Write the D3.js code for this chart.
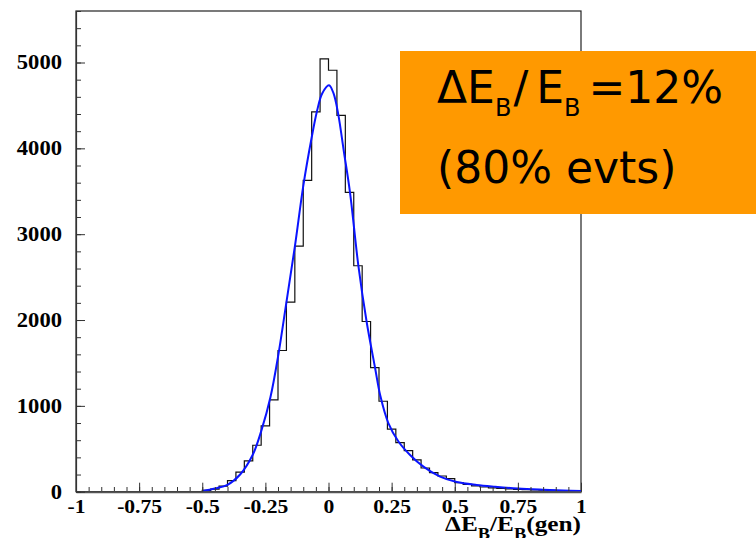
<!DOCTYPE html>
<html lang="en">
<head>
<meta charset="UTF-8">
<title>Beam energy resolution</title>
<script src="https://d3js.org/d3.v7.min.js"></script>
<style>
  body { margin: 0; background: #fff; }
  svg { display: block; }
  .tick text { font-family: "Liberation Serif", "Times New Roman", serif; font-weight: bold; fill: #000; }
  .box-text { font-family: "DejaVu Sans", sans-serif; fill: #000; }
</style>
</head>
<body>
<div id="chart"></div>
<script>
// histogram: 60 bins of width 1/30 between -1 and 1 (counts per bin)
const binLow = -1, binHigh = 1, nBins = 60;
const binCounts = [
  0, 0, 0, 0, 0, 0, 0, 0, 0, 0,
  0, 0, 0, 0, 0, 15, 30, 66, 128, 228,
  360, 541, 766, 1070, 1645, 2209, 2862, 3627, 4425, 5043,
  4910, 4385, 3487, 2632, 1983, 1446, 1054, 728, 572, 478,
  370, 276, 222, 183, 152, 105, 85, 68, 55, 45,
  38, 32, 27, 24, 20, 17, 15, 12, 10, 8
];

// fitted curve
const fitX = [-0.5, -0.45, -0.4, -0.35, -0.3, -0.265, -0.23, -0.2, -0.167, -0.133,
  -0.1, -0.067, -0.045, -0.025, 0.002, 0.02, 0.039, 0.06, 0.085, 0.118,
  0.151, 0.184, 0.205, 0.237, 0.277, 0.323, 0.376, 0.442, 0.508, 0.587,
  0.66, 0.75, 0.85, 0.93, 1.0];
const fitY = [8, 38, 80, 200, 430, 720, 1100, 1570, 2200, 2860,
  3560, 4120, 4440, 4640, 4735, 4640, 4390, 3980, 3490, 2640,
  1980, 1450, 1120, 800, 585, 428, 292, 175, 112, 78,
  58, 38, 24, 15, 8];

const xTicks = [-1, -0.75, -0.5, -0.25, 0, 0.25, 0.5, 0.75, 1];
const xTickLabels = ["-1", "-0.75", "-0.5", "-0.25", "0", "0.25", "0.5", "0.75", "1"];
const yTicks = [0, 1000, 2000, 3000, 4000, 5000];
const yMax = 5600;

const width = 756, height = 538;
const frame = { left: 76, right: 581, top: 11, bottom: 491.7 };

const svg = d3.select("#chart").append("svg")
  .attr("width", width)
  .attr("height", height);

const x = d3.scaleLinear().domain([binLow, binHigh]).range([frame.left, frame.right]);
const y = d3.scaleLinear().domain([0, yMax]).range([frame.bottom, frame.top]);

// frame
svg.append("rect")
  .attr("x", frame.left).attr("y", frame.top)
  .attr("width", frame.right - frame.left)
  .attr("height", frame.bottom - frame.top)
  .attr("fill", "none")
  .attr("stroke", "#222")
  .attr("stroke-width", 1.2);

// histogram outline
const binW = (binHigh - binLow) / nBins;
const steps = binCounts.map((c, i) => ({ x: binLow + i * binW, v: c }));
steps.push({ x: binHigh, v: binCounts[nBins - 1] });
const stepLine = d3.line()
  .x(d => x(d.x))
  .y(d => y(d.v))
  .curve(d3.curveStepAfter);
svg.append("path")
  .attr("d", stepLine(steps))
  .attr("fill", "none")
  .attr("stroke", "#111")
  .attr("stroke-width", 1.2);

// fit
const fitLine = d3.line()
  .x((d, i) => x(fitX[i]))
  .y(d => y(d))
  .curve(d3.curveCatmullRom);
svg.append("path")
  .attr("d", fitLine(fitY))
  .attr("fill", "none")
  .attr("stroke", "#0a14ff")
  .attr("stroke-width", 2);

// x axis, ticks point inward
const xMinor = d3.range(-1, 1.0001, 0.05).map(v => +v.toFixed(2));
svg.append("g")
  .attr("transform", `translate(0,${frame.bottom})`)
  .call(d3.axisBottom(x).tickValues(xMinor).tickSize(-4.7).tickSizeOuter(0).tickFormat(""))
  .call(g => g.select(".domain").remove())
  .call(g => g.selectAll(".tick line").attr("stroke", "#333"));

const xAxis = svg.append("g")
  .attr("transform", `translate(0,${frame.bottom})`)
  .call(d3.axisBottom(x).tickValues(xTicks).tickSize(-9).tickSizeOuter(0).tickPadding(9)
    .tickFormat((d, i) => xTickLabels[i]));
xAxis.select(".domain").attr("stroke", "#555").attr("stroke-width", 2);
xAxis.selectAll(".tick line").attr("stroke", "#333");
xAxis.selectAll(".tick text")
  .style("font-size", "18px")
  .attr("transform", "scale(1.2,1)");

// y axis
const yMinor = d3.range(0, yMax + 1, 200);
svg.append("g")
  .attr("transform", `translate(${frame.left},0)`)
  .call(d3.axisLeft(y).tickValues(yMinor).tickSize(-5).tickSizeOuter(0).tickFormat(""))
  .call(g => g.select(".domain").remove())
  .call(g => g.selectAll(".tick line").attr("stroke", "#333"));

const yAxis = svg.append("g")
  .attr("transform", `translate(${frame.left},0)`)
  .call(d3.axisLeft(y).tickValues(yTicks).tickSize(-9).tickSizeOuter(0).tickFormat(d3.format("d")));
yAxis.select(".domain").attr("stroke", "#333").attr("stroke-width", 1.2);
yAxis.selectAll(".tick line").attr("stroke", "#333");
yAxis.selectAll(".tick text")
  .style("font-size", "20px")
  .attr("x", 0)
  .attr("transform", "translate(-14,0) scale(1.13,1)");

// x axis title (runs off the bottom edge like the original)
const xTitle = svg.append("text")
  .attr("x", 0)
  .attr("y", 0)
  .attr("transform", `translate(${frame.right},531) scale(1.15,1)`)
  .attr("text-anchor", "end")
  .style("font-family", "'Liberation Serif', 'Times New Roman', serif")
  .style("font-weight", "bold")
  .style("font-size", "22px");
xTitle.append("tspan").text("\u0394E");
xTitle.append("tspan").attr("dy", 8).style("font-size", "16px").text("B");
xTitle.append("tspan").attr("dy", -8).text("/E");
xTitle.append("tspan").attr("dy", 8).style("font-size", "16px").text("B");
xTitle.append("tspan").attr("dy", -8).text("(gen)");

// orange label box
svg.append("rect")
  .attr("x", 400).attr("y", 51)
  .attr("width", 356).attr("height", 163)
  .attr("fill", "#ff9900");

const line1 = svg.append("text")
  .attr("class", "box-text")
  .attr("x", 437).attr("y", 103)
  .style("font-size", "44px");
line1.append("tspan").text("\u0394E");
line1.append("tspan").attr("dy", 13).style("font-size", "24px").text("B");
line1.append("tspan").attr("dy", -13).attr("dx", 2).text("/");
line1.append("tspan").attr("dx", 8).text("E");
line1.append("tspan").attr("dy", 13).style("font-size", "24px").text("B");
line1.append("tspan").attr("dy", -13).attr("dx", 8).text("=12%");

svg.append("text")
  .attr("class", "box-text")
  .attr("x", 437).attr("y", 183)
  .style("font-size", "44px")
  .text("(80% evts)");
</script>
</body>
</html>
